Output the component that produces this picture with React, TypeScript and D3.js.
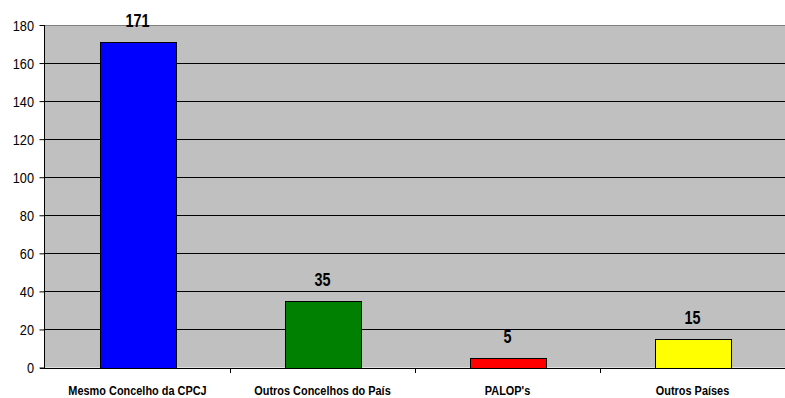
import React, { useEffect, useRef } from 'react';
import * as d3 from 'd3';

const categories = ['Mesmo Concelho da CPCJ', 'Outros Concelhos do País', "PALOP's", 'Outros Países'];
const values = [171, 35, 5, 15];
const barColors = ['#0000ff', '#008000', '#ff0000', '#ffff00'];
const yTicks = [0, 20, 40, 60, 80, 100, 120, 140, 160, 180];

const W = 785;
const H = 398;
const FONT = "'Liberation Sans', Arial, sans-serif";

const App: React.FC = () => {
  const ref = useRef<SVGSVGElement>(null);

  useEffect(() => {
    const svg = d3.select(ref.current);
    svg.selectAll('*').remove();

    const left = 45, right = 785, top = 25, bottom = 367.5;

    const x = d3.scaleBand<string>().domain(categories).range([left, right]).paddingInner(0).paddingOuter(0);
    const y = d3.scaleLinear().domain([0, 180]).range([bottom, top]);

    // plot background
    svg.append('rect')
      .attr('x', left).attr('y', top)
      .attr('width', right - left).attr('height', bottom - top)
      .attr('fill', '#c0c0c0');
    svg.append('line')
      .attr('x1', left).attr('x2', right)
      .attr('y1', top + 0.5).attr('y2', top + 0.5)
      .attr('stroke', '#808080');

    // gridlines
    svg.append('g')
      .selectAll('line')
      .data(yTicks.filter(t => t > 0 && t < 180))
      .join('line')
      .attr('x1', left).attr('x2', right)
      .attr('y1', d => Math.round(y(d)) + 0.5).attr('y2', d => Math.round(y(d)) + 0.5)
      .attr('stroke', '#000');

    // bars
    const bw = 76;
    svg.append('g')
      .selectAll('rect')
      .data(values)
      .join('rect')
      .attr('x', (d, i) => Math.round(x(categories[i])! + x.bandwidth() / 2 - bw / 2) + 0.5)
      .attr('y', d => Math.round(y(d)) + 0.5)
      .attr('width', bw)
      .attr('height', d => Math.round(y(0)) - Math.round(y(d)))
      .attr('fill', (d, i) => barColors[i])
      .attr('stroke', '#000');

    // value labels (condensed like Arial Narrow)
    svg.append('g')
      .selectAll('text')
      .data(values)
      .join('text')
      .attr('transform', (d, i) => `translate(${x(categories[i])! + x.bandwidth() / 2},${y(d) - 15}) scale(0.8,1)`)
      .attr('text-anchor', 'middle')
      .attr('font-family', FONT)
      .attr('font-weight', 'bold')
      .attr('font-size', 18)
      .attr('fill', '#000')
      .text(d => d);

    // y axis
    const yAxis = svg.append('g')
      .attr('transform', `translate(${left - 0.5},0)`)
      .call(d3.axisLeft(y).tickValues(yTicks).tickSize(5).tickFormat(() => ''));
    yAxis.select('.domain').attr('stroke', '#000').attr('d', `M0,${top}V${Math.round(bottom) + 0.5}`);
    yAxis.selectAll('.tick line').attr('stroke', '#000');

    svg.append('g')
      .selectAll('text')
      .data(yTicks)
      .join('text')
      .attr('transform', d => `translate(34,${y(d) + 5.5}) scale(0.85,1)`)
      .attr('text-anchor', 'end')
      .attr('font-family', FONT)
      .attr('font-size', 15)
      .attr('fill', '#000')
      .text(d => d);

    // x axis
    const xAxis = svg.append('g')
      .attr('transform', `translate(0,${Math.round(bottom) + 0.5})`)
      .call(d3.axisBottom(x).tickSize(0).tickFormat(() => ''));
    xAxis.select('.domain').attr('stroke', '#000').attr('d', `M${left - 5},0H${right}`);

    svg.append('g')
      .selectAll('text')
      .data(categories)
      .join('text')
      .attr('transform', d => `translate(${x(d)! + x.bandwidth() / 2},395) scale(0.84,1)`)
      .attr('text-anchor', 'middle')
      .attr('font-family', FONT)
      .attr('font-weight', 'bold')
      .attr('font-size', 13)
      .attr('fill', '#000')
      .text(d => d);

    // category separators
    svg.append('g')
      .selectAll('line')
      .data(categories.slice(1))
      .join('line')
      .attr('x1', d => Math.round(x(d)!) + 0.5).attr('x2', d => Math.round(x(d)!) + 0.5)
      .attr('y1', Math.round(bottom)).attr('y2', Math.round(bottom) + 5)
      .attr('stroke', '#000');
  }, []);

  return (
    <svg ref={ref} width={W} height={H} style={{ position: 'absolute', left: 0, top: 0, background: '#fff' }} />
  );
};

export default App;
